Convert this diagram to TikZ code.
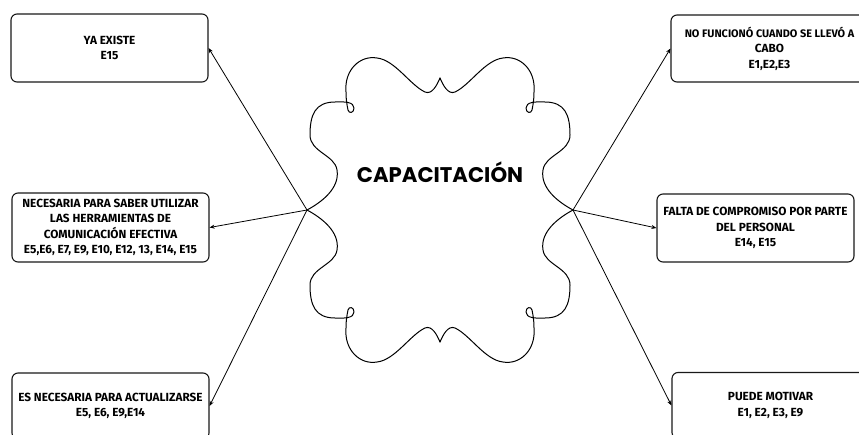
\documentclass[tikz,border=0pt]{standalone}
\usepackage{fontspec}
\setmainfont{Fira Sans}
\newfontfamily\titlefont{Poppins}
\usetikzlibrary{arrows.meta}
\begin{document}
\begin{tikzpicture}[x=1pt,y=-1pt,
  box/.style={draw=black!90, line width=1.1pt, rounded corners=6pt, minimum width=197pt, align=center, inner sep=0pt,
    font=\fontsize{11.8}{15.5}\selectfont\bfseries},
  conn/.style={line width=0.8pt, -{Stealth[length=5pt,width=4pt]}},
  cloudline/.style={line width=1pt, line join=round, line cap=round},
  titletext/.style={font=\titlefont\fontsize{21.2}{24}\selectfont\bfseries}]
\useasboundingbox (0,0) rectangle (859,434);
\clip (0,0) rectangle (859,434);
\fill[white] (0,0) rectangle (859,434);

% cloud
\foreach \sx/\sy in {1/1,-1/1,1/-1,-1/-1}{
  \begin{scope}[shift={(440,210)}, xscale=\sx, yscale=\sy]
    \draw[cloudline] (-133,0) .. controls (-118,-8) and (-100,-22) .. (-103,-40)
      .. controls (-105,-55) and (-130,-58) .. (-130,-75)
      .. controls (-130,-95) and (-125,-108) .. (-105,-108)
      .. controls (-95,-108.5) and (-86,-108) .. (-86,-102)
      .. controls (-86,-97) and (-91,-96) .. (-92,-100)
      .. controls (-93,-105) and (-94,-110) .. (-94,-118)
      .. controls (-96,-140) and (-80,-155) .. (-63,-152)
      .. controls (-45,-150) and (-30,-125) .. (-15,-118)
      .. controls (-8,-115) and (-3,-125) .. (0,-132);
  \end{scope}
}
\node[titletext] (title) at (440,172) {CAPACITACIÓN};

\coordinate (L) at (307,210);
\coordinate (R) at (573,210);

% left boxes
\node[box, minimum height=68pt] (b1) at (109.5,48) {YA EXISTE\\E15};
\node[box, minimum height=69pt] (b2) at (110.5,227.5) {NECESARIA PARA SABER UTILIZAR\\LAS HERRAMIENTAS DE\\COMUNICACIÓN EFECTIVA\\E5,E6, E7, E9, E10, E12, 13, E14, E15};
\node[box, minimum height=66pt] (b3) at (110.5,406) {ES NECESARIA PARA ACTUALIZARSE\\E5, E6, E9,E14};

% right boxes
\node[box, minimum height=67pt] (r1) at (769.5,48.5) {{\fontsize{10.9}{15.5}\selectfont NO FUNCIONÓ CUANDO SE LLEVÓ A}\\CABO\\E1,E2,E3};
\node[box, minimum height=68pt] (r2) at (755.5,228) {FALTA DE COMPROMISO POR PARTE\\DEL PERSONAL\\E14, E15};
\node[box, minimum height=66pt] (r3) at (770.5,405.5) {PUEDE MOTIVAR\\E1, E2, E3, E9};

% connectors
\draw[conn] (L) -- (b1.east);
\draw[conn] (L) -- (b2.east);
\draw[conn] (L) -- (b3.east);
\draw[conn] (R) -- (r1.west);
\draw[conn] (R) -- (r2.west);
\draw[conn] (R) -- (r3.west);
\end{tikzpicture}
\end{document}
